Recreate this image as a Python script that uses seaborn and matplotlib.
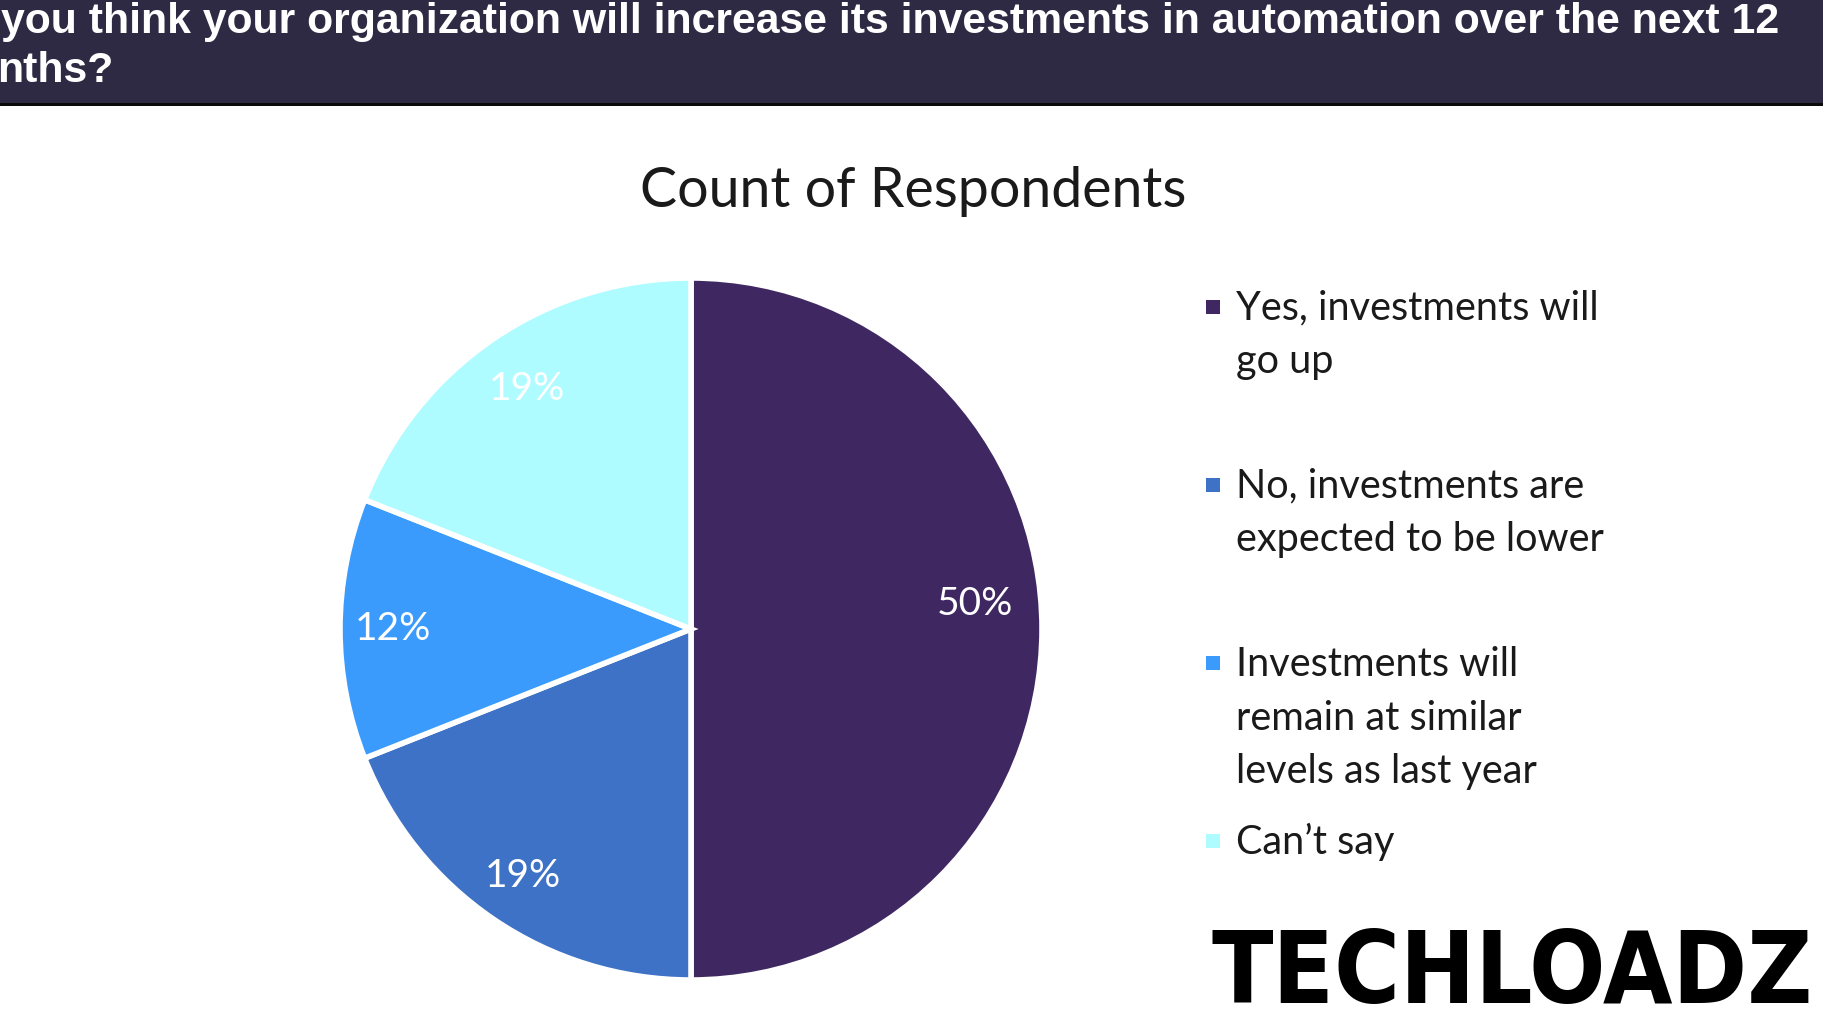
import matplotlib
matplotlib.use("Agg")
import matplotlib.pyplot as plt
from matplotlib.patches import Rectangle
import seaborn as sns

categories = ["Yes, investments will\ngo up",
              "No, investments are\nexpected to be lower",
              "Investments will\nremain at similar\nlevels as last year",
              "Can\u2019t say"]
values = [50, 19, 12, 19]
colors = ["#3f2862", "#3d72c6", "#3a9bfd", "#aefcff"]
header_lines = ["you think your organization will increase its investments in automation over the next 12",
                "nths?"]
chart_title = "Count of Respondents"
brand = "TECHLOADZ"

sns.set_theme(style="white")
plt.rcParams['font.family'] = ['Lato', 'DejaVu Sans']

W, H = 1824, 1026
fig = plt.figure(figsize=(W / 100, H / 100), dpi=100)
fig.patch.set_facecolor("white")

def fx(px):
    return px / W

def fy(py):
    return 1 - py / H

# header band
fig.add_artist(Rectangle((0, fy(103)), 1, 103 / H, transform=fig.transFigure,
                         facecolor="#2f2a44", edgecolor="none", zorder=0))
fig.add_artist(Rectangle((0, fy(106)), 1, 3 / H, transform=fig.transFigure,
                         facecolor="#0a0a0a", edgecolor="none", zorder=0))
fig.text(fx(1), fy(33), header_lines[0], color="white", fontsize=30.8,
         fontweight="bold", family=["Liberation Sans", "DejaVu Sans"], va="baseline", ha="left")
fig.text(fx(-3), fy(82), header_lines[1], color="white", fontsize=30.8,
         fontweight="bold", family=["Liberation Sans", "DejaVu Sans"], va="baseline", ha="left")

# chart title
fig.text(fx(913), fy(207), chart_title, color="#1a1a1a", fontsize=40,
         ha="center", va="baseline")

# pie
cx, cy, r = 691, 629, 351
ax = fig.add_axes([fx(cx - r), fy(cy + r), 2 * r / W, 2 * r / H])
wedges, texts, autotexts = ax.pie(values, colors=colors, startangle=90, counterclock=False,
                                  autopct="%1.0f%%", pctdistance=0.85,
                                  wedgeprops=dict(edgecolor="white", linewidth=4),
                                  textprops=dict(color="white", fontsize=28))
ax.set_xlim(-1.0, 1.0)
ax.set_ylim(-1.0, 1.0)
ax.set_aspect("equal")
ax.axis("off")
x0, y0 = autotexts[0].get_position()
autotexts[0].set_position((x0 - 0.04, y0 + 0.07))
x3, y3 = autotexts[3].get_position()
autotexts[3].set_position((x3 + 0.01, y3 - 0.02))

# legend (manual, positions matching reference)
first_line_y = [308, 486, 664, 842]
line_h = 54
for cat, col, y in zip(categories, colors, first_line_y):
    fig.add_artist(Rectangle((fx(1206), fy(y + 6)), 14 / W, 14 / H, transform=fig.transFigure,
                             facecolor=col, edgecolor="none"))
    for i, line in enumerate(cat.split("\n")):
        fig.text(fx(1236), fy(y + i * line_h), line, fontsize=28.5, color="#1a1a1a",
                 ha="left", va="center")

# brand logo
fig.text(fx(1512), fy(1003), brand, fontsize=72, fontweight="bold", color="black",
         family=["DejaVu Sans"], stretch="condensed", ha="center", va="baseline")

fig.savefig("out.png", dpi=100)
